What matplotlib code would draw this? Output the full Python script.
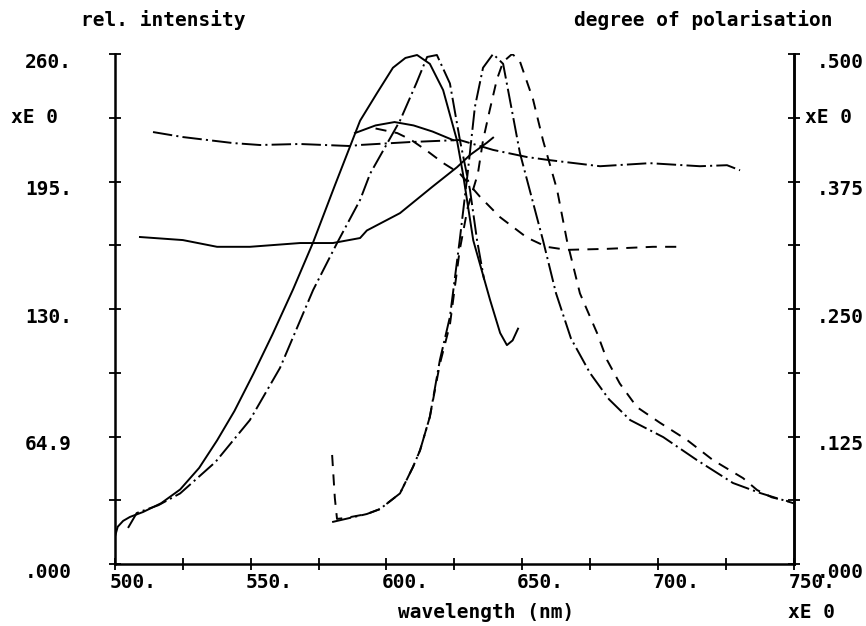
import matplotlib.pyplot as plt
import numpy as np

plt.rcParams['font.family'] = ['DejaVu Sans Mono']
plt.rcParams['font.weight'] = 'bold'
plt.rcParams['lines.scale_dashes'] = False

# excitation spectra (rel. intensity)
exc_solid_wl = [500, 501, 503, 505.5, 510.3, 517, 524, 531, 537.6, 544, 551, 558, 565.6,
                573, 581, 590.3, 596.5, 602.4, 607, 611.3, 616, 620.9, 626, 628.2, 632,
                638.2, 641.9, 644.4, 646.5, 648.5]
exc_solid_i = [14, 19, 22, 24, 26.5, 31, 38, 49, 63, 78, 97, 117, 140,
               164, 193, 226, 240, 253, 258, 259.5, 255, 241.6, 216, 199, 165,
               134.6, 117.8, 111.6, 114, 120]

exc_dd_wl = [504.8, 508, 516, 524, 537, 549.7, 560.8, 573, 581.8, 590.3, 594, 605,
             611, 615, 618.6, 623.4, 627.1, 630.8, 633.4, 636]
exc_dd_i = [18.4, 26, 30, 36, 52, 73.4, 100, 139.7, 163.6, 185.6, 199, 226,
            245, 258.5, 259.5, 245, 216, 190.7, 165, 145]

# emission spectra (rel. intensity)
em_dd_wl = [580, 585, 592.8, 597.6, 605, 609.8, 612.4, 616, 619.7, 623.4, 627, 630,
            632.6, 635.6, 639.3, 643, 649.2, 657.7, 662.5, 668, 675, 682, 689.8, 702,
            714.4, 727.7, 737.7, 744, 750]
em_dd_i = [21.4, 23, 25.5, 28, 36, 49.5, 58, 75, 104, 126, 165, 200,
           233, 253, 260, 255, 209.5, 165, 138, 115, 97.4, 84, 73.4, 64.7,
           53, 41.3, 36.2, 33.5, 31]

em_d_wl = [580, 581, 581.8, 585, 592.8, 597.6, 605, 609.8, 612.4, 616, 619.7, 623.4,
           627, 630, 633.7, 635.6, 638, 640.7, 643, 646.3, 649, 654, 657.7, 662.9,
           666.5, 671.3, 677.6, 681.3, 686, 692.3, 700.8, 710.8, 720.3, 731.4, 736.6,
           742, 748]
em_d_i = [55.6, 33.6, 23, 23.5, 25.5, 28, 36, 49.5, 58, 75, 102, 122,
          160, 182, 199, 216, 231, 247, 256, 260, 257, 237, 216, 190.7,
          165, 138, 117.8, 104, 92, 80, 72, 63.2, 53, 43.8, 37.7,
          34, 32]

# degree of polarisation
pol_dd_wl = [514, 525, 543.5, 553.4, 568, 586.6, 590, 608.7, 627, 639.3, 651.8, 660,
             678.7, 697, 715.5, 725.5, 730.3]
pol_dd = [0.4235, 0.4186, 0.4127, 0.4108, 0.4118, 0.4098, 0.4108, 0.4137, 0.4157, 0.406,
          0.399, 0.396, 0.390, 0.393, 0.390, 0.391, 0.386]

pol_solid_wl = [509.2, 525, 537.6, 549.7, 568.2, 580.3, 590.3, 592.8, 605, 617, 626,
                630.8, 637, 639.3]
pol_solid = [0.3206, 0.3176, 0.311, 0.311, 0.3147, 0.3147, 0.3196, 0.327, 0.344, 0.37,
             0.389, 0.401, 0.413, 0.418]

pol_arch_wl = [588.4, 596, 603, 610, 617, 624.5]
pol_arch = [0.4225, 0.430, 0.4333, 0.430, 0.424, 0.4157]

pol_d_wl = [596, 604, 609, 615, 621, 627, 634.5, 641.9, 651.8, 659, 666.5, 681.3,
            698.2, 709.3]
pol_d = [0.427, 0.4225, 0.416, 0.405, 0.393, 0.383, 0.36, 0.34, 0.32, 0.311, 0.308,
         0.309, 0.311, 0.311]

left_ticks = [0, 64.9, 130, 195, 260]
left_labels = ['.000', '64.9', '130.', '195.', '260.']
right_ticks = [0.125, 0.250, 0.375, 0.500]
right_labels = ['.125', '.250', '.375', '.500']
x_ticks = [500, 550, 600, 650, 700, 750]
x_labels = ['500.', '550.', '600.', '650.', '700.', '750.']

fig = plt.figure(figsize=(8.66, 6.26), dpi=100)
ax = fig.add_axes([0.1328, 0.099, 0.7835, 0.8147])
ax2 = ax.twinx()

dashdot = (0, (14, 3, 1.5, 3))
dashed = (0, (8, 6))
lw = 1.4

ax.plot(exc_solid_wl, exc_solid_i, color='black', lw=lw)
ax.plot(exc_dd_wl, exc_dd_i, color='black', lw=lw, ls=dashdot)
ax.plot(em_dd_wl, em_dd_i, color='black', lw=lw, ls=dashdot)
ax.plot(em_d_wl, em_d_i, color='black', lw=lw, ls=dashed)

ax2.plot(pol_dd_wl, pol_dd, color='black', lw=lw, ls=dashdot)
ax2.plot(pol_solid_wl, pol_solid, color='black', lw=lw)
ax2.plot(pol_arch_wl, pol_arch, color='black', lw=lw)
ax2.plot(pol_d_wl, pol_d, color='black', lw=lw, ls=dashed)

ax.set_xlim(500, 750)
ax.set_ylim(0, 260)
ax2.set_ylim(0, 0.5)

for a in (ax, ax2):
    a.spines['top'].set_visible(False)
    for s in a.spines.values():
        s.set_linewidth(1.8)
ax2.spines['left'].set_visible(False)
ax2.spines['bottom'].set_visible(False)

ax.set_xticks(np.arange(500, 751, 25))
ax.set_yticks(np.linspace(0, 260, 9))
ax2.set_yticks(np.linspace(0, 0.5, 9))
ax.tick_params(direction='inout', length=9, width=1.3, labelleft=False, labelbottom=False)
ax2.tick_params(direction='inout', length=9, width=1.3, labelright=False)

fs = 14
# left tick labels
for v, t in zip(left_ticks, left_labels):
    ax.annotate(t, xy=(0, v), xycoords=('axes fraction', 'data'), xytext=(-31, 1),
                textcoords='offset points', ha='right', va='top', fontsize=fs)
ax.annotate('xE 0', xy=(0, 227.5), xycoords=('axes fraction', 'data'), xytext=(-75, 0),
            textcoords='offset points', ha='left', va='center', fontsize=fs)

# right tick labels
for v, t in zip(right_ticks, right_labels):
    ax2.annotate(t, xy=(1, v), xycoords=('axes fraction', 'data'), xytext=(16.5, 1),
                 textcoords='offset points', ha='left', va='top', fontsize=fs)
ax2.annotate('.000', xy=(1, 0), xycoords=('axes fraction', 'data'), xytext=(16.5, 1),
             textcoords='offset points', ha='left', va='top', fontsize=fs)
ax2.annotate('xE 0', xy=(1, 0.4375), xycoords=('axes fraction', 'data'), xytext=(8, 0),
             textcoords='offset points', ha='left', va='center', fontsize=fs)

# bottom tick labels
for v, t in zip(x_ticks, x_labels):
    ax.annotate(t, xy=(v, 0), xycoords=('data', 'axes fraction'), xytext=(-3.6, -6.5),
                textcoords='offset points', ha='left', va='top', fontsize=fs)
ax.annotate('xE 0', xy=(750, 0), xycoords=('data', 'axes fraction'), xytext=(-4, -35),
            textcoords='offset points', ha='left', va='center', fontsize=fs)

fig.text(486 / 866, 1 - 613 / 626, 'wavelength (nm)', ha='center', va='center', fontsize=fs)
fig.text(163 / 866, 1 - 20 / 626, 'rel. intensity', ha='center', va='center', fontsize=fs)
fig.text(833 / 866, 1 - 20 / 626, 'degree of polarisation', ha='right', va='center', fontsize=fs)

fig.savefig('out.png', dpi=100)
